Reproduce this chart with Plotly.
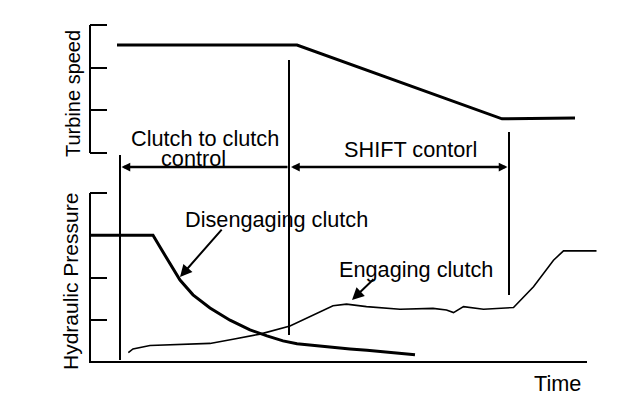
import plotly.graph_objects as go

# ---------------- data ----------------
speed_time = [5.4, 41.4, 82.4, 97.0]
turbine_speed = [2.53, 2.53, 0.80, 0.82]

diseng_time = [0, 12.6, 14, 16, 18, 20.6, 24, 28, 32, 35.4, 38.6, 41.4, 45.4, 52, 55.4, 65]
diseng_press = [3.0, 3.0, 2.72, 2.34, 1.94, 1.59, 1.28, 0.99, 0.76, 0.62, 0.50, 0.43, 0.38, 0.31, 0.28, 0.17]

eng_time = [7.66, 8.6, 12, 18.6, 24, 28.6, 34, 40, 45.3, 48.6, 51.3, 55.3, 62, 68.6, 71.3,
            72.7, 74.7, 78.7, 84.7, 88.7, 92.7, 94.7, 101.3]
eng_press = [0.22, 0.31, 0.39, 0.42, 0.44, 0.54, 0.66, 0.85, 1.15, 1.33, 1.37, 1.31, 1.25, 1.27, 1.23,
             1.17, 1.31, 1.25, 1.29, 1.78, 2.41, 2.63, 2.63]

phase_times = [6.0, 39.8, 83.8]
speed_ticks = [0, 1, 2, 3]
press_ticks = [1, 2, 3, 4]

W, H = 640, 410
OFF = 8  # page body margin in the browser
FONT = "Liberation Sans, Arial, sans-serif"
X0_PX, X1_PX = 90, 600
XRANGE = [0, 102]
PX_PER_T = (X1_PX - X0_PX) / (XRANGE[1] - XRANGE[0])
TXT = 21.7
PAD = 0.06  # small range padding so end ticks are not clipped


def px(x):
    return (x - OFF) / W


def py(y):
    return 1 - (y - OFF) / H


fig = go.Figure()

fig.add_trace(go.Scatter(x=speed_time, y=turbine_speed, mode="lines",
                         line=dict(color="black", width=3), xaxis="x2", yaxis="y2",
                         name="Turbine speed"))
fig.add_trace(go.Scatter(x=diseng_time, y=diseng_press, mode="lines",
                         line=dict(color="black", width=3), xaxis="x", yaxis="y",
                         name="Disengaging clutch"))
fig.add_trace(go.Scatter(x=eng_time, y=eng_press, mode="lines",
                         line=dict(color="black", width=1.6), xaxis="x", yaxis="y",
                         name="Engaging clutch"))

xdom = [px(X0_PX), px(X1_PX)]

# pixel positions of the first/last tick of each panel
TOP_Y0, TOP_Y1 = 153, 25
BOT_Y0, BOT_Y1 = 362, 193
top_pp = (TOP_Y0 - TOP_Y1) / (speed_ticks[-1] - speed_ticks[0])
bot_pp = (BOT_Y0 - BOT_Y1) / (press_ticks[-1] - 0)

yax_common = dict(showgrid=False, zeroline=False, showline=False,
                  ticks="inside", ticklen=17, tickwidth=2, tickcolor="black",
                  showticklabels=False, fixedrange=True)
xax_common = dict(domain=xdom, range=XRANGE, showline=False, showgrid=False, zeroline=False,
                  ticks="", showticklabels=False, fixedrange=True)

fig.update_layout(
    width=W, height=H,
    margin=dict(l=0, r=0, t=0, b=0),
    paper_bgcolor="white", plot_bgcolor="white",
    showlegend=False,
    font=dict(family=FONT, size=TXT, color="black"),
    xaxis=dict(anchor="y", **xax_common),
    xaxis2=dict(anchor="y2", **xax_common),
    yaxis=dict(domain=[py(BOT_Y0 + PAD * bot_pp), py(BOT_Y1 - PAD * bot_pp)],
               range=[-PAD, press_ticks[-1] + PAD], tickvals=press_ticks,
               anchor="x", **yax_common),
    yaxis2=dict(domain=[py(TOP_Y0 + PAD * top_pp), py(TOP_Y1 - PAD * top_pp)],
                range=[speed_ticks[0] - PAD, speed_ticks[-1] + PAD], tickvals=speed_ticks,
                anchor="x2", **yax_common),
)

axis_line = dict(color="black", width=2)
# x axis line of the lower panel
fig.add_shape(type="line", xref="paper", yref="paper", x0=px(89), x1=px(587),
              y0=py(BOT_Y0), y1=py(BOT_Y0), line=axis_line)
# y axis lines of both panels
fig.add_shape(type="line", xref="paper", yref="paper", x0=px(X0_PX), x1=px(X0_PX),
              y0=py(BOT_Y0), y1=py(BOT_Y1), line=axis_line)
fig.add_shape(type="line", xref="paper", yref="paper", x0=px(X0_PX), x1=px(X0_PX),
              y0=py(TOP_Y0), y1=py(TOP_Y1), line=axis_line)

# phase boundary lines
v_spans = [(155, 360), (60, 335), (132, 295)]
for t, (y0, y1) in zip(phase_times, v_spans):
    fig.add_shape(type="line", xref="x", yref="paper", x0=t, x1=t, y0=py(y0), y1=py(y1),
                  line=dict(color="black", width=2))

# horizontal double-arrow line between the panels
yarr = py(167)
arrow_style = dict(showarrow=True, arrowcolor="black", arrowwidth=2.5, arrowsize=0.7,
                   arrowhead=2, startarrowhead=2, startarrowsize=0.7, text="",
                   axref="pixel", ayref="pixel", ay=0)
h1 = phase_times[0] + 0.3
fig.add_annotation(x=h1, y=yarr, xref="x", yref="paper",
                   ax=(phase_times[1] - h1) * PX_PER_T, arrowside="end", **arrow_style)
h2 = phase_times[1] + 0.4
fig.add_annotation(x=h2, y=yarr, xref="x", yref="paper",
                   ax=(phase_times[2] - h2) * PX_PER_T, arrowside="end+start", **arrow_style)


# texts
def label(text, x, y, size=TXT, angle=0):
    fig.add_annotation(text=text, x=px(x), y=py(y), xref="paper", yref="paper",
                       showarrow=False, xanchor="center", yanchor="middle",
                       textangle=angle, font=dict(size=size))


label("Clutch to clutch", 205, 138)
label("control", 193, 158)
label("SHIFT contorl", 410, 149)
label("Disengaging clutch", 276, 219)
label("Engaging clutch", 416, 269)
label("Time", 557, 383)
label("Turbine speed", 73, 94, size=20, angle=-90)
label("Hydraulic Pressure", 70, 282, size=21, angle=-90)

# pointer arrows to the curves
pointer = dict(showarrow=True, text="", arrowcolor="black", arrowwidth=2, arrowhead=2,
               arrowsize=1.2, axref="pixel", ayref="pixel")
fig.add_annotation(x=18, y=2.01, xref="x", yref="y", ax=43, ay=-49, **pointer)
fig.add_annotation(x=52.4, y=1.47, xref="x", yref="y", ax=23, ay=-22, **pointer)

fig.write_html("out.html")
